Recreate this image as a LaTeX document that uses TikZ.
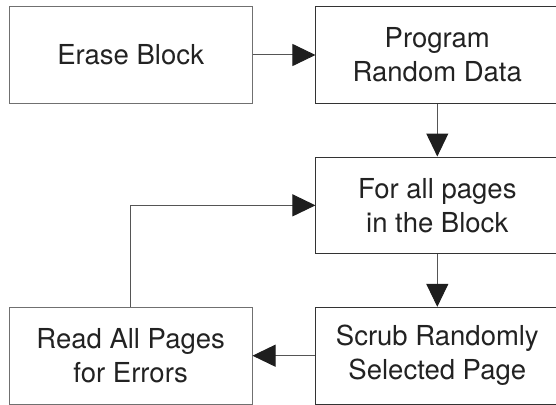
\documentclass[tikz,border=0pt]{standalone}
\usepackage{fontspec}
\setmainfont{TeX Gyre Heros}
\usetikzlibrary{arrows.meta}
\definecolor{txt}{HTML}{222222}
\definecolor{edgeL}{HTML}{707070}
\definecolor{edgeR}{HTML}{333333}
\definecolor{conn}{HTML}{555555}
\definecolor{tipc}{HTML}{1E1E1E}
\tikzset{
  box/.style={rectangle, draw, line width=1pt, minimum width=242.7pt, minimum height=96.7pt,
    inner sep=0pt, align=center, text=txt, font=\fontsize{27.5}{34}\selectfont},
  lbox/.style={box, draw=edgeL},
  rbox/.style={box, draw=edgeR},
  conn/.style={draw=conn, line width=1pt,
    -{Triangle[length=23pt,width=22pt,fill=tipc,color=tipc]}}
}
\begin{document}
\begin{tikzpicture}[x=1pt,y=-1pt]
\useasboundingbox (0,0) rectangle (556,404);
\clip (0,0) rectangle (556,404);
\node[lbox] (erase) at (130.65,55) {Erase Block};
\node[rbox] (program) at (437.3,55) {Program\\Random Data};
\node[rbox] (forall) at (437.3,205.35) {For all pages\\in the Block};
\node[rbox] (scrub) at (437.3,355.7) {Scrub Randomly\\Selected Page};
\node[lbox] (read) at (130.65,355.7) {Read All Pages\\for Errors};
\draw[conn] (erase) -- (program);
\draw[conn] (program) -- (forall);
\draw[conn] (forall) -- (scrub);
\draw[conn] (scrub) -- (read);
\draw[conn] (read.north) |- (forall.west);
\end{tikzpicture}
\end{document}
